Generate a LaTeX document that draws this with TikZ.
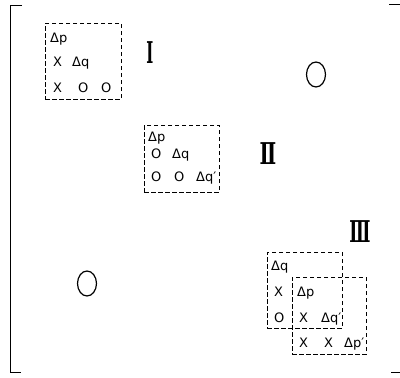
\documentclass[tikz,border=0pt]{standalone}
\usepackage{fontspec}
\usetikzlibrary{shapes.geometric}
\setmainfont{DejaVu Sans}
\newfontfamily\romanfont{DejaVu Serif}
\begin{document}
\begin{tikzpicture}[x=1pt,y=-1pt,
  dbox/.style={draw, dashed, dash pattern=on 4.5pt off 2.5pt, line width=1pt, inner sep=0pt},
  lbl/.style={inner sep=0pt, anchor=base west, font=\fontsize{13}{13}\selectfont},
  roman/.style={inner sep=0pt, font=\romanfont\bfseries\fontsize{30}{30}\selectfont},
  bigo/.style={draw, ellipse, line width=1.2pt, minimum width=19pt, minimum height=25pt, inner sep=0pt},
  frame/.style={line width=1.4pt}]
\useasboundingbox (0,0) rectangle (400,378);
% frame
\coordinate (ftl) at (10.5,5.5);
\coordinate (fbl) at (10.5,372.5);
\draw[frame] (22,5.5) -- (ftl) -- (fbl) -- (21,372.5);
\coordinate (trA) at (389,4.5);
\coordinate (trB) at (400,4.5);
\draw[frame] (trA) -- (trB);
\coordinate (brA) at (391,372.5);
\coordinate (brB) at (400,372.5);
\draw[frame] (brA) -- (brB);
% boxes
\node[dbox, minimum width=76pt, minimum height=76pt] (b1) at (83,61) {};
\node[dbox, minimum width=75pt, minimum height=67pt] (b2) at (181.5,158.5) {};
\node[dbox, minimum width=75pt, minimum height=76pt] (b3a) at (304.5,290) {};
\node[dbox, minimum width=74pt, minimum height=77pt] (b3b) at (329,315.5) {};
% box I
\node[lbl] (t11) at (50,42) {Δp};
\node[lbl] (t12) at (53,66) {X};
\node[lbl] (t13) at (72,66) {Δq};
\node[lbl] (t14) at (53,92) {X};
\node[lbl] (t15) at (78,92) {O};
\node[lbl] (t16) at (101,92) {O};
% box II
\node[lbl] (t21) at (148,141) {Δp};
\node[lbl] (t22) at (151,158) {O};
\node[lbl] (t23) at (172,158) {Δq};
\node[lbl] (t24) at (151,181) {O};
\node[lbl] (t25) at (174,181) {O};
\node[lbl] (t26) at (196,181) {Δq′};
% box III
\node[lbl] (t31) at (271,270) {Δq};
\node[lbl] (t32) at (274,296) {X};
\node[lbl] (t33) at (297,296) {Δp};
\node[lbl] (t34) at (274,322) {O};
\node[lbl] (t35) at (299,322) {X};
\node[lbl] (t36) at (321,322) {Δq′};
\node[lbl] (t37) at (299,347) {X};
\node[lbl] (t38) at (324,347) {X};
\node[lbl] (t39) at (344,347) {Δp′};
% roman numerals
\node[roman] (r1) at (150,53) {\scalebox{0.5}[1]{Ⅰ}};
\node[roman] (r2) at (268,154) {\scalebox{0.66}[1]{Ⅱ}};
\node[roman] (r3) at (360,231.5) {\scalebox{0.58}[1]{Ⅲ}};
% big circles
\node[bigo] (c1) at (316,74.5) {};
\node[bigo] (c2) at (87,283.5) {};
\end{tikzpicture}
\end{document}
